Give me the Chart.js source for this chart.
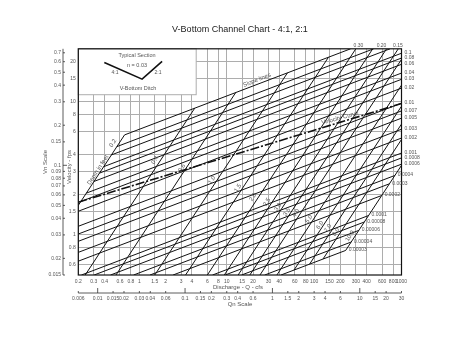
<!DOCTYPE html>
<html>
<head>
<meta charset="utf-8">
<title>V-Bottom Channel Chart</title>
<script src="https://cdn.jsdelivr.net/npm/chart.js@4"></script>
<style>
    html, body { margin: 0; padding: 0; background: #fff; }
    canvas { display: block; }
</style>
</head>
<body>
<canvas id="grafico" width="463" height="358"></canvas>
<script>
// Tick labels of the four axes
const qTicks = [0.2, 0.3, 0.4, 0.6, 0.8, 1, 1.5, 2, 3, 4, 6, 8, 10, 15, 20, 30, 40, 60, 80, 100, 150, 200, 300, 400, 600, 800, 1000];
const vTicks = [0.6, 0.8, 1, 1.5, 2, 3, 4, 6, 8, 10, 15, 20];
const qnTicks = [0.006, 0.01, 0.015, 0.02, 0.03, 0.04, 0.06, 0.1, 0.15, 0.2, 0.3, 0.4, 0.6, 1, 1.5, 2, 3, 4, 6, 10, 15, 20, 30];
const vnTicks = [0.015, 0.02, 0.03, 0.04, 0.05, 0.06, 0.07, 0.08, 0.09, 0.1, 0.15, 0.2, 0.3, 0.4, 0.5, 0.6, 0.7];

const slopeNames = ['0.30', '0.20', '0.15', '0.1', '0.08', '0.06', '0.04', '0.03', '0.02', '0.01', '0.007', '0.005', '0.003', '0.002', '0.001', '0.0008', '0.0006', '0.0004', '0.0003', '0.0002', '0.0001', '0.00008', '0.00006', '0.00004', '0.00003'];
const slopeStartQ = [0.677, 0.5525, 0.4786, 0.3907, 0.3496, 0.3027, 0.2471, 0.214, 0.2, 0.2, 0.2, 0.2, 0.2, 0.2, 0.2174, 0.3036, 0.4677, 0.859, 1.323, 2.43, 6.876, 9.6, 14.8, 27.2, 41.8];
const slopeStartV = [5.64, 4.604, 3.988, 3.256, 2.912, 2.522, 2.06, 1.783, 1.506, 1.161, 1.016, 0.8955, 0.7395, 0.635, 0.5, 0.5, 0.5, 0.5, 0.5, 0.5, 0.5, 0.5, 0.5, 0.5, 0.5];
const slopeEndQ = [261.6, 480, 740, 1000, 1000, 1000, 1000, 1000, 1000, 1000, 1000, 1000, 1000, 1000, 1000, 1000, 1000, 838, 726, 593, 419, 375, 325, 265, 230];
const slopeEndV = [25, 25, 25, 23.16, 21.3, 19.12, 16.43, 14.75, 12.67, 9.765, 8.54, 7.53, 6.22, 5.34, 4.12, 3.787, 3.4, 2.795, 2.42, 1.977, 1.398, 1.25, 1.082, 0.884, 0.765];

// Depth lines, same way
const depthNames = ['0.2', '0.4', '0.6', '1.0', '1.5', '2.0', '2.5', '3.0', '3.5', '4.0', '5.0', '6.0', '7.0', '8.0', '10.0'];
const depthStartQ = [0.2, 0.24, 0.54, 1.5, 3.375, 6, 9.375, 13.5, 18.375, 24, 37.5, 58.8, 88.7, 126.6, 229.6];
const depthStartV = [1.667, 0.5, 0.5, 0.5, 0.5, 0.5, 0.5, 0.5, 0.5, 0.5, 0.5, 0.544, 0.603, 0.66, 0.765];
const depthEndQ = [0.677, 4.3, 12.67, 49.5, 145.9, 300, 468.75, 675, 918.75, 1000, 1000, 1000, 1000, 1000, 1000];
const depthEndV = [5.64, 8.95, 11.73, 16.49, 21.6, 25, 25, 25, 25, 20.83, 13.33, 9.26, 6.8, 5.21, 3.33];

// Velocity curve and the little ditch drawing in the corner box
const curveQ = [0.2, 1000];
const curveV = [1.76, 9.7];
const sectionQ = [0.397, 1.074, 1.82];
const sectionV = [19.75, 14.8, 20.1];
const boxMaxQ = 4.47;
const boxMinV = 11.3;

const gridColor = '#adadad';
const textColor = '#555';
const fontName = '"Liberation Sans", Arial, sans-serif';

function linea(xs, ys, width, dash) {
    return {
        data: xs.map((x, i) => ({ x: x, y: ys[i] })),
        showLine: true,
        pointRadius: 0,
        borderColor: '#111',
        borderWidth: width,
        borderDash: dash || [],
        tension: 0
    };
}

const datasets = [];
slopeNames.forEach((name, i) => {
    datasets.push(linea([slopeStartQ[i], slopeEndQ[i]], [slopeStartV[i], slopeEndV[i]], 1));
});
depthNames.forEach((name, i) => {
    datasets.push(linea([depthStartQ[i], depthEndQ[i]], [depthStartV[i], depthEndV[i]], 1));
});
datasets.push(linea(curveQ, curveV, 1.6, [9, 2, 2, 2]));
datasets.push(linea(sectionQ, sectionV, 1.6));

function texto(ctx, str, x, y, size, angle, align) {
    ctx.save();
    ctx.translate(x, y);
    ctx.rotate((angle || 0) * Math.PI / 180);
    ctx.font = size + 'px ' + fontName;
    ctx.fillStyle = textColor;
    ctx.textAlign = align || 'center';
    ctx.textBaseline = 'middle';
    ctx.fillText(str, 0, 0);
    ctx.restore();
}

// White box over the grid, top left
const cajaPlugin = {
    id: 'caja',
    beforeDatasetsDraw(chart) {
        const ctx = chart.ctx;
        const area = chart.chartArea;
        const right = chart.scales.x.getPixelForValue(boxMaxQ);
        const bottom = chart.scales.y.getPixelForValue(boxMinV);
        ctx.save();
        ctx.fillStyle = '#fff';
        ctx.fillRect(area.left, area.top, right - area.left, bottom - area.top);
        ctx.strokeStyle = gridColor;
        ctx.lineWidth = 1;
        ctx.strokeRect(area.left, area.top, right - area.left, bottom - area.top);
        ctx.restore();
    }
};

// Frame, the two extra axes and all the loose text
const extrasPlugin = {
    id: 'extras',
    afterDatasetsDraw(chart) {
        const ctx = chart.ctx;
        const area = chart.chartArea;
        const sx = chart.scales.x;
        const sy = chart.scales.y;
        const qn = chart.scales.qn;
        const vn = chart.scales.yVn;

        ctx.save();
        ctx.strokeStyle = '#111';
        ctx.lineWidth = 1.2;
        ctx.strokeRect(area.left, area.top, area.right - area.left, area.bottom - area.top);

        // Vn axis at the left
        ctx.strokeStyle = '#333';
        ctx.lineWidth = 0.8;
        const vnX = 63;
        ctx.beginPath();
        ctx.moveTo(vnX, vn.getPixelForValue(0.75));
        ctx.lineTo(vnX, vn.getPixelForValue(0.015));
        vnTicks.forEach(v => {
            const py = vn.getPixelForValue(v);
            ctx.moveTo(vnX, py);
            ctx.lineTo(vnX + (v === 0.1 ? 4 : 2), py);
        });

        // Qn axis below
        const qnY = 293;
        ctx.moveTo(qn.getPixelForValue(0.006), qnY);
        ctx.lineTo(qn.getPixelForValue(30), qnY);
        qnTicks.forEach(v => {
            const px = qn.getPixelForValue(v);
            const major = [0.01, 0.1, 1, 10].includes(v);
            ctx.moveTo(px, qnY);
            ctx.lineTo(px, qnY - (major ? 5 : 2));
        });
        ctx.stroke();
        ctx.restore();

        // Slope names at the end of each line
        slopeNames.forEach((name, i) => {
            const px = sx.getPixelForValue(slopeEndQ[i]);
            const py = sy.getPixelForValue(slopeEndV[i]);
            const top = slopeEndV[i] >= 25;
            texto(ctx, name, px + 3, top ? py - 3.5 : py - 0.5, 5, 0, 'left');
        });

        // Depth names sit along a diagonal across the lines
        const depthSpots = [[113, 143], [155, 160], [182, 168], [212, 180], [238, 188], [253, 197], [267, 202], [278, 207], [287, 212], [296, 213], [309, 219], [320, 225], [328, 228], [336, 232], [350, 236]];
        depthNames.forEach((name, i) => {
            texto(ctx, name, depthSpots[i][0], depthSpots[i][1], 6, -57);
        });

        texto(ctx, 'Depth in feet', 98, 170, 6, -57);
        texto(ctx, 'Slope lines', 257, 80, 6, -22);
        texto(ctx, 'Velocity Curve', 340, 118, 6, -15);

        texto(ctx, 'Typical Section', 137, 55, 5.5);
        texto(ctx, 'n = 0.03', 137, 65, 5.5);
        texto(ctx, '4:1', 115, 73, 5);
        texto(ctx, '2:1', 158, 73, 5);
        texto(ctx, 'V-Bottom Ditch', 138, 88, 5.5);

        texto(ctx, 'Vn Scale', 45, 162, 6, -90);
        texto(ctx, 'Velocity - fps', 69, 167, 6, -90);
        texto(ctx, 'Discharge - Q - cfs', 238, 287, 6);
        texto(ctx, 'Qn Scale', 240, 304, 6);
    }
};

function ejeLog(values, extra) {
    return Object.assign({
        type: 'logarithmic',
        border: { display: false },
        afterBuildTicks(scale) {
            scale.ticks = values.map(v => ({ value: v }));
        }
    }, extra);
}

function marcas(padding) {
    return {
        autoSkip: false,
        maxRotation: 0,
        minRotation: 0,
        padding: padding,
        color: textColor,
        font: { size: 5, family: fontName },
        callback: value => String(value)
    };
}

new Chart(document.getElementById('grafico').getContext('2d'), {
    type: 'scatter',
    data: { datasets: datasets },
    options: {
        responsive: false,
        animation: false,
        layout: { padding: { left: 0, right: 61.5, top: 0, bottom: 0 } },
        plugins: {
            legend: { display: false },
            tooltip: { enabled: false },
            title: {
                display: true,
                fullSize: false,
                text: 'V-Bottom Channel Chart - 4:1, 2:1',
                color: '#222',
                font: { size: 9, weight: 'normal', family: fontName },
                padding: { top: 24, bottom: 14 }
            }
        },
        scales: {
            x: ejeLog(qTicks, {
                position: 'bottom',
                min: 0.2,
                max: 1000,
                grid: { color: gridColor, lineWidth: 1, drawTicks: false },
                ticks: marcas(3.5),
                afterFit(scale) { scale.height = 14; }
            }),
            qn: ejeLog(qnTicks, {
                axis: 'x',
                position: 'bottom',
                weight: 1,
                min: 0.006,
                max: 30,
                grid: { display: false, drawTicks: false },
                ticks: marcas(6.5),
                afterFit(scale) { scale.height = 69; }
            }),
            y: ejeLog(vTicks, {
                position: 'left',
                min: 0.5,
                max: 25,
                grid: { color: gridColor, lineWidth: 1, drawTicks: false },
                ticks: marcas(2.5),
                afterFit(scale) { scale.width = 15.3; }
            }),
            yVn: ejeLog(vnTicks, {
                axis: 'y',
                position: 'left',
                weight: 1,
                min: 0.015,
                max: 0.75,
                grid: { display: false, drawTicks: false },
                ticks: marcas(2),
                afterFit(scale) { scale.width = 63; }
            })
        }
    },
    plugins: [cajaPlugin, extrasPlugin]
});
</script>
</body>
</html>
